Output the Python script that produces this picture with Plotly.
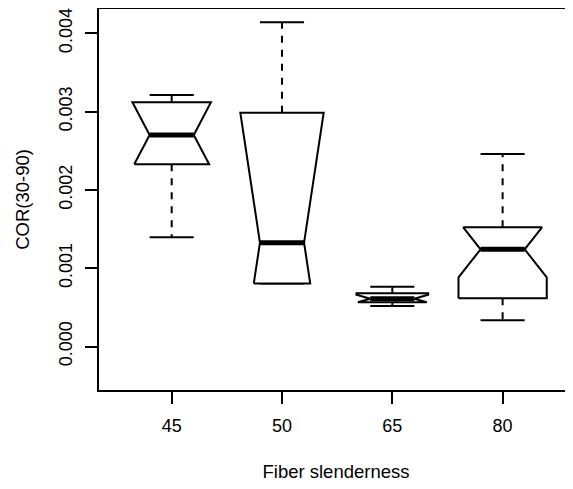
import plotly.graph_objects as go

# ---- data ----
categories = ["45", "50", "65", "80"]
whisker_low = [0.001395, 0.000805, 0.000517, 0.000335]
q1 = [0.002327, 0.000805, 0.000565, 0.000616]
median = [0.002701, 0.001326, 0.000610, 0.001241]
q3 = [0.003119, 0.002986, 0.000680, 0.001522]
whisker_high = [0.003212, 0.004141, 0.000764, 0.002458]
notch_span = [0.000418, 0.00183, 0.00005, 0.000358]
y_tick_values = [0.000, 0.001, 0.002, 0.003, 0.004]
y_tick_labels = ["0.000", "0.001", "0.002", "0.003", "0.004"]

# ---- style ----
box_half = [0.356, 0.396, 0.325, 0.40]   # varwidth-like half widths
inner_half = 0.2                          # notch waist half width
cap_half = 0.2                            # staple half width
FONT = "Liberation Sans, Arial, sans-serif"
FS = 18
FS_TITLE = 18.5

positions = list(range(1, len(categories) + 1))

box_x, box_y = [], []
med_x, med_y = [], []
wh_x, wh_y = [], []
cap_x, cap_y = [], []

for i, c in enumerate(positions):
    lo, a, m, b, hi, s = whisker_low[i], q1[i], median[i], q3[i], whisker_high[i], notch_span[i]
    outer = box_half[i]
    # left side from q1 up to q3 (notch clipped to hinges)
    left = []
    if m - s <= a:
        h = inner_half + (outer - inner_half) * (m - a) / s
        left.append((-h, a))
    else:
        left += [(-outer, a), (-outer, m - s)]
    left.append((-inner_half, m))
    if m + s >= b:
        h = inner_half + (outer - inner_half) * (b - m) / s
        left.append((-h, b))
    else:
        left += [(-outer, m + s), (-outer, b)]
    right = [(-dx, y) for dx, y in reversed(left)]
    pts = left + right + [left[0]]
    box_x += [c + dx for dx, _ in pts] + [None]
    box_y += [y for _, y in pts] + [None]

    med_x += [c - inner_half, c + inner_half, None]
    med_y += [m, m, None]

    wh_x += [c, c, None, c, c, None]
    wh_y += [b, hi, None, a, lo, None]
    cap_x += [c - cap_half, c + cap_half, None, c - cap_half, c + cap_half, None]
    cap_y += [hi, hi, None, lo, lo, None]

fig = go.Figure()
fig.add_trace(go.Scatter(x=wh_x, y=wh_y, mode="lines",
                         line=dict(color="black", width=2, dash="7px,7px"),
                         hoverinfo="skip", showlegend=False))
fig.add_trace(go.Scatter(x=cap_x, y=cap_y, mode="lines",
                         line=dict(color="black", width=2),
                         hoverinfo="skip", showlegend=False))
fig.add_trace(go.Scatter(x=box_x, y=box_y, mode="lines", fill="toself",
                         fillcolor="white",
                         line=dict(color="black", width=2),
                         hoverinfo="skip", showlegend=False))
fig.add_trace(go.Scatter(x=med_x, y=med_y, mode="lines",
                         line=dict(color="black", width=5),
                         hoverinfo="skip", showlegend=False))

# the page body adds an 8px offset; margins compensate so the plot area
# lands at x 99..573, y 9..390 of the window
fig.update_layout(
    width=573, height=489,
    margin=dict(l=91, r=8, t=1, b=107, autoexpand=False),
    paper_bgcolor="white", plot_bgcolor="white",
    font=dict(family=FONT, size=FS, color="black"),
    showlegend=False,
)
fig.update_xaxes(
    range=[0.341, 4.638], automargin=False,
    tickmode="array", tickvals=positions, ticktext=categories,
    tickfont=dict(size=FS),
    ticks="outside", ticklen=12, tickwidth=2, tickcolor="black",
    ticklabelstandoff=6,
    showline=True, linewidth=2, linecolor="black", mirror=True,
    showgrid=False, zeroline=False,
    title=dict(text="Fiber slenderness", standoff=30, font=dict(size=FS_TITLE)),
)
fig.update_yaxes(
    range=[-0.0005556, 0.0043103], automargin=False,
    tickmode="array", tickvals=y_tick_values, ticktext=y_tick_labels,
    tickfont=dict(size=FS),
    tickangle=-90,
    ticks="outside", ticklen=12, tickwidth=2, tickcolor="black",
    ticklabelstandoff=6,
    showline=True, linewidth=2, linecolor="black", mirror=False,
    showgrid=False, zeroline=False,
    title=dict(text="COR(30-90)", standoff=21, font=dict(size=FS_TITLE)),
)

fig.write_html("out.html")
